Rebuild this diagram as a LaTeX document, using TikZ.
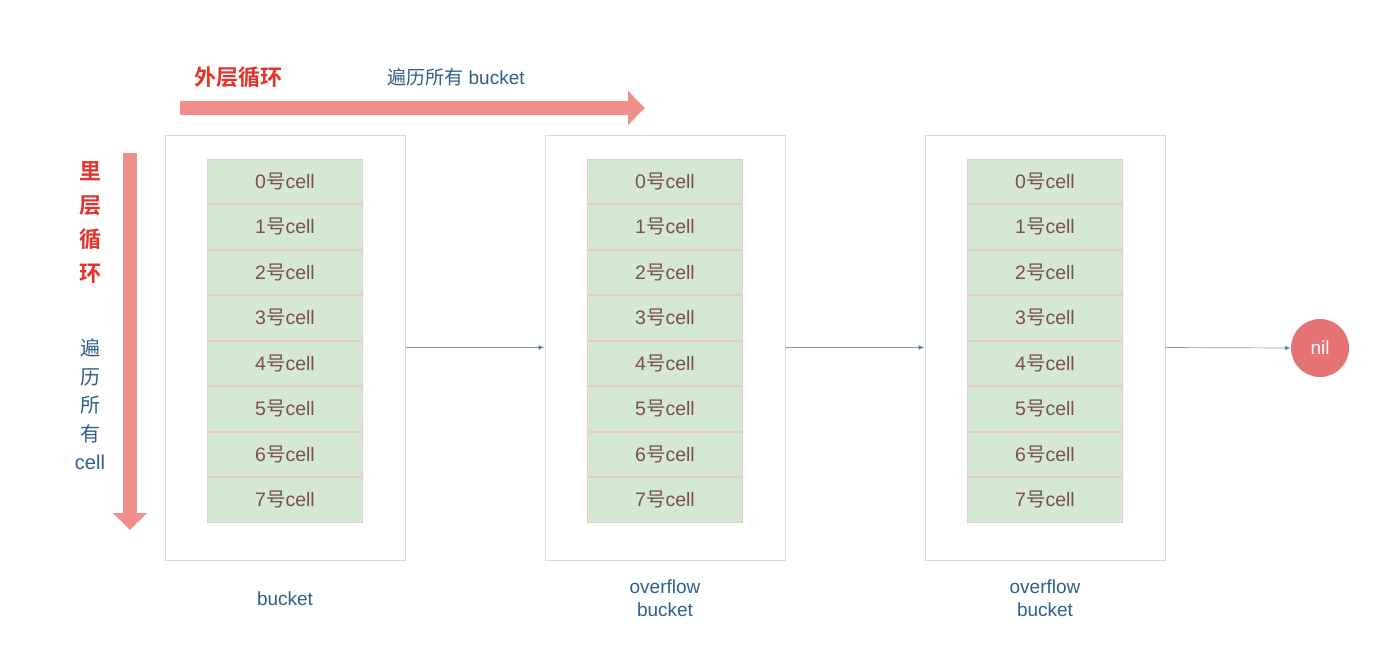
\documentclass[tikz,border=0pt]{standalone}
\usepackage{fontspec}
\setmainfont{Liberation Sans}
\newfontfamily\cjk{Noto Sans CJK SC}[BoldFont={Noto Sans CJK SC Bold}]
\usepackage{xcolor}
\usetikzlibrary{positioning, arrows.meta}

\definecolor{framegray}{HTML}{D9D9D9}
\definecolor{cellgreen}{HTML}{D5E8D4}
\definecolor{cellline}{HTML}{E8CACA}
\definecolor{celltext}{HTML}{7A5050}
\definecolor{loopblue}{HTML}{2E5F8A}
\definecolor{loopred}{HTML}{E5332C}
\definecolor{looppink}{HTML}{EF8E8A}
\definecolor{linkblue}{HTML}{7E9BBA}
\definecolor{tipblue}{HTML}{3C5A80}
\definecolor{nilred}{HTML}{E57373}

\begin{document}
\begin{tikzpicture}
	[
		x=1pt, y=-1pt,
		frame/.style={draw=framegray, line width=1pt, minimum width=240pt, minimum height=425pt, inner sep=0pt},
		cellbox/.style={draw=cellline, fill=cellgreen, line width=0.8pt, minimum width=155pt, minimum height=44.7pt, inner sep=0pt, text=celltext, font=\fontsize{19.5}{19.5}\selectfont},
		link/.style={draw=linkblue, line width=0.7pt, -{Latex[length=6pt, width=5pt, fill=tipblue]}},
		bigarrow/.style={draw=looppink, line width=14pt, -{Triangle[length=17pt, width=33pt, fill=looppink]}},
		caption/.style={text=loopblue, inner sep=0pt, align=center, font=\fontsize{19}{23}\selectfont}
	]
	\useasboundingbox (0,0) rectangle (1380,662);

	\node[frame] (bk1) at (285,347.5) {};
	\node[frame] (bk2) at (665,347.5) {};
	\node[frame] (bk3) at (1045,347.5) {};

	\foreach \b in {1,2,3}{
		\node[cellbox, below=24pt of bk\b.north] (c\b0) {0{\cjk 号}cell};
		\foreach \i [remember=\i as \j (initially 0)] in {1,...,7}
			\node[cellbox, below=0pt of c\b\j] (c\b\i) {\i{\cjk 号}cell};
	}

	\node[circle, fill=nilred, minimum size=58pt, inner sep=0pt, text=white, font=\fontsize{19}{19}\selectfont] (nil) at (1320,348) {nil};

	\draw[link] (bk1.east) -- (bk2.west);
	\draw[link] (bk2.east) -- (bk3.west);
	\draw[link] (bk3.east) -- (nil.west);

	\node[caption, below=31pt of bk1.south] (cap1) {bucket};
	\node[caption, below=19pt of bk2.south] (cap2) {overflow\\bucket};
	\node[caption, below=19pt of bk3.south] (cap3) {overflow\\bucket};

	\coordinate (outerstart) at (180,108);
	\coordinate (outerend) at (645,108);
	\draw[bigarrow] (outerstart) -- (outerend);
	\coordinate (innerstart) at (130,153);
	\coordinate (innerend) at (130,530);
	\draw[bigarrow] (innerstart) -- (innerend);

	\node[text=loopred, font=\cjk\bfseries\fontsize{22}{22}\selectfont] (outer) at (238,77) {外层循环};
	\node[text=loopblue, font=\fontsize{19}{19}\selectfont] (outerall) at (456,77) {{\cjk 遍历所有} bucket};
	\node[text=loopred, align=center, font=\cjk\bfseries\fontsize{22}{34}\selectfont] (inner) at (90,222.5) {里\\层\\循\\环};
	\node[text=loopblue, align=center, font=\fontsize{20}{28.5}\selectfont] (innerall) at (90,404.5) {{\cjk 遍}\\{\cjk 历}\\{\cjk 所}\\{\cjk 有}\\cell};
\end{tikzpicture}
\end{document}
